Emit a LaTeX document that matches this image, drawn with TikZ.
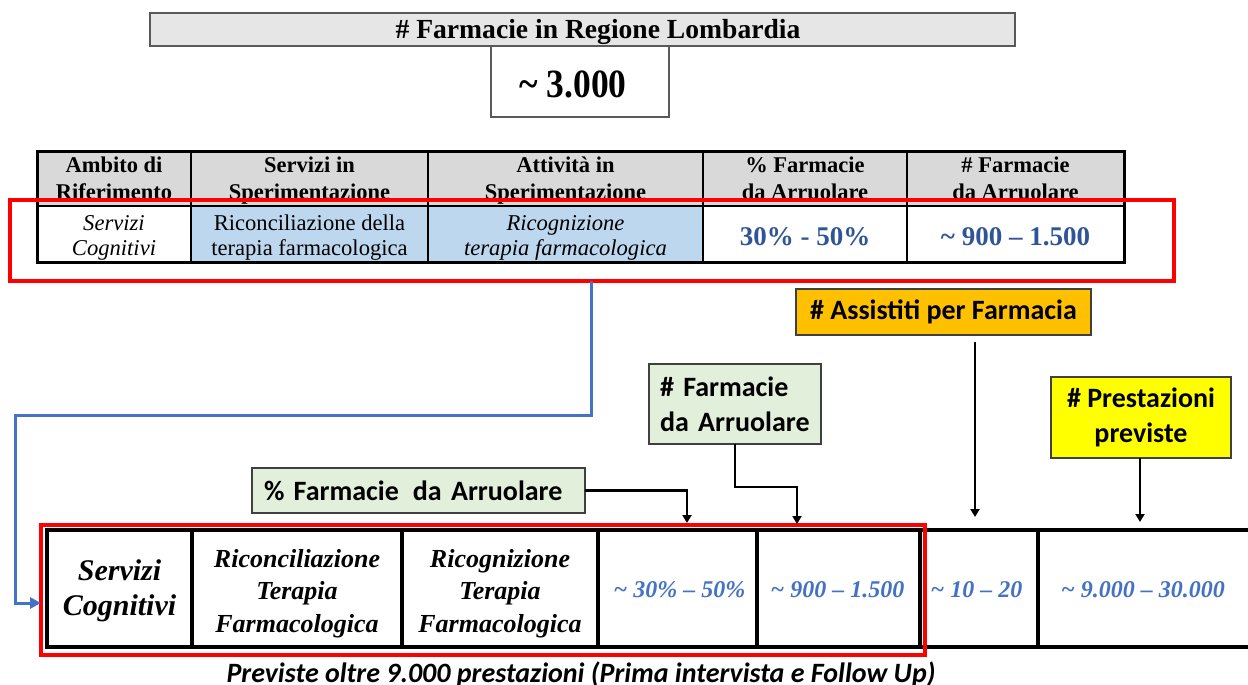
\documentclass[tikz,border=0pt]{standalone}
\usepackage{fontspec}
\setmainfont{Liberation Serif}
\newfontfamily\calib{Carlito}
\usetikzlibrary{arrows.meta}
\definecolor{hdrgray}{HTML}{D9D9D9}
\definecolor{topgray}{HTML}{E7E6E6}
\definecolor{lblue}{HTML}{BDD7EE}
\definecolor{dblue}{HTML}{2F5597}
\definecolor{mblue}{HTML}{4472C4}
\definecolor{lgreen}{HTML}{E2EFDA}
\definecolor{orng}{HTML}{FFC000}
\definecolor{yel}{HTML}{FFFF00}
\definecolor{bord}{HTML}{404040}
\definecolor{redc}{HTML}{FF0000}
\newcommand{\fsz}[2]{\fontsize{#1}{#2}\selectfont}
\begin{document}
\begin{tikzpicture}[x=1pt,y=-1pt,
  cellbox/.style 2 args={anchor=north west, inner sep=0pt, outer sep=0pt, minimum width=#1pt, minimum height=#2pt},
  hcell/.style={draw=black, line width=2pt, fill=hdrgray},
  dcell/.style={draw=black, line width=2pt},
  txt/.style={inner sep=0pt, align=center},
  redbox/.style={draw=redc, line width=3.5pt},
  lbl/.style={draw=bord, line width=1.2pt, font=\calib\bfseries\fsz{28}{35}},
  blkcon/.style={draw=black, line width=2.5pt, -{Triangle[length=8pt,width=9pt]}},
  bluecon/.style={draw=mblue, line width=3pt, -{Triangle[length=11pt,width=11pt]}},
  tline/.style={draw=black, line width=4pt, line cap=rect}
]
\useasboundingbox (0,0) rectangle (1248,685);
\fill[white] (0,0) rectangle (1248,685);

% title
\node[cellbox={865}{33}, draw=gray!70!black, line width=1.5pt, fill=topgray] (title) at (150,13) {};
\node[anchor=base, inner sep=0pt, font=\bfseries\fsz{27.6}{32}] (titletxt) at (598,39) {\# Farmacie in Regione Lombardia};
\node[cellbox={178}{71}, draw=gray!70!black, line width=1.5pt, fill=white] (tot) at (491,46) {};
\node[anchor=base, inner sep=0pt, font=\bfseries\fsz{35.5}{40}] (tottxt) at (573,97) {\scalebox{1}[1.13]{\textasciitilde\kern9pt 3.000}};

% upper table header
\node[cellbox={154}{55}, hcell] (h1) at (37,151) {};
\node[cellbox={237}{55}, hcell] (h2) at (191,151) {};
\node[cellbox={275}{55}, hcell] (h3) at (428,151) {};
\node[cellbox={204}{55}, hcell] (h4) at (703,151) {};
\node[cellbox={217}{55}, hcell] (h5) at (907,151) {};
\begin{scope}[every node/.style={txt, font=\bfseries\fsz{22.5}{27}}]
\node (ht1) at (114,181) {\strut Ambito di\\\strut Riferimento};
\node (ht2) at (309.5,181) {\strut Servizi in\\\strut Sperimentazione};
\node (ht3) at (565.5,181) {\strut Attività in\\\strut Sperimentazione};
\node (ht4) at (805,181) {\strut\% Farmacie\\\strut da Arruolare};
\node (ht5) at (1015.5,181) {\strut\# Farmacie\\\strut da Arruolare};
\end{scope}
% upper table data
\node[cellbox={154}{56}, dcell, fill=white] (d1) at (37,206) {};
\node[cellbox={237}{56}, dcell, fill=lblue] (d2) at (191,206) {};
\node[cellbox={275}{56}, dcell, fill=lblue] (d3) at (428,206) {};
\node[cellbox={204}{56}, dcell, fill=white] (d4) at (703,206) {};
\node[cellbox={217}{56}, dcell, fill=white] (d5) at (907,206) {};
\draw[line width=3pt] (h1.north west) rectangle (d5.south east);
\begin{scope}[every node/.style={txt, font=\fsz{22.6}{25}}]
\node (dt1) at (114,237.5) {\itshape\strut Servizi\\\itshape\strut Cognitivi};
\node (dt2) at (309.5,237.5) {\strut Riconciliazione della\\\strut terapia farmacologica};
\node (dt3) at (565.5,237.5) {\itshape\strut Ricognizione\\\itshape\strut terapia farmacologica};
\end{scope}
\node[anchor=base, inner sep=0pt, font=\bfseries\fsz{27}{30}, text=dblue] (dt4) at (805,245) {30\% - 50\%};
\node[anchor=base, inner sep=0pt, font=\bfseries\fsz{27}{30}, text=dblue] (dt5) at (1015.5,245) {\textasciitilde{} 900 – 1.500};

\node[cellbox={1164}{81}, redbox] (sel1) at (10,200) {};

% lower table cells
\node[cellbox={145}{117}] (t1) at (47,530) {};
\node[cellbox={210}{117}] (t2) at (192,530) {};
\node[cellbox={196}{117}] (t3) at (402,530) {};
\node[cellbox={159}{117}] (t4) at (598,530) {};
\node[cellbox={163}{117}] (t5) at (757,530) {};
\node[cellbox={118}{117}] (t6) at (920,530) {};
\node[cellbox={214}{117}] (t7) at (1038,530) {};
\draw[tline] (t7.north east) -- (t1.north west) -- (t1.south west) -- (t7.south east);
\foreach \c in {t1,t2,t3,t4,t5,t6}{\draw[tline] (\c.north east) -- (\c.south east);}

\node[txt, font=\bfseries\itshape\fsz{30}{35}] (x1) at (119.5,590.5) {\strut Servizi\\\strut Cognitivi};
\node[txt, font=\bfseries\itshape\fsz{26}{32.5}] (x2) at (297,593) {\strut Riconciliazione\\\strut Terapia\\\strut Farmacologica};
\node[txt, font=\bfseries\itshape\fsz{26}{32.5}] (x3) at (500,593) {\strut Ricognizione\\\strut Terapia\\\strut Farmacologica};
\begin{scope}[every node/.style={anchor=base, inner sep=0pt, font=\bfseries\itshape\fsz{24}{28}, text=mblue}]
\node (x4) at (679.5,597) {\textasciitilde{} 30\% – 50\%};
\node (x5) at (837.5,597) {\textasciitilde{} 900 – 1.500};
\node (x6) at (976.5,597) {\textasciitilde{} 10 – 20};
\node (x7) at (1143,597) {\textasciitilde{} 9.000 – 30.000};
\end{scope}

\node[cellbox={884}{130}, redbox] (sel2) at (41,525) {};

\node[anchor=base, inner sep=0pt, font=\calib\bfseries\itshape\fsz{28}{32}] (caption) at (581,682) {Previste oltre 9.000 prestazioni (Prima intervista e Follow Up)};

% labels
\node[cellbox={333}{45}, lbl, fill=lgreen, text width=309pt, inner xsep=12pt, align=left] (lblpct) at (252,468) {\% Farmacie\ \,da Arruolare};
\node[cellbox={172}{80}, lbl, fill=lgreen, text width=150pt, inner xsep=11pt, align=left] (lblnum) at (649,364) {\# Farmacie\\da Arruolare};
\node[cellbox={295}{46}, lbl, fill=orng] (lblass) at (796,289) {\# Assistiti per Farmacia};
\node[cellbox={180}{81}, lbl, fill=yel, align=center] (lblprest) at (1051,377) {\# Prestazioni\\previste};

% connectors
\coordinate (bc1) at (591,415);
\coordinate (bc2) at (15,415);
\draw[bluecon] (sel1.south -| bc1) -- (bc1) -- (bc2) |- ([yshift=-13pt]sel2.west);

\coordinate (a4) at (687,523);
\coordinate (a5) at (797,524);
\coordinate (a6) at (975,517);
\coordinate (a7) at (1140,522);
\draw[blkcon] (lblpct.east) -| (a4);
\draw[blkcon] (lblnum.south) -- ++(0,43) -| (a5);
\draw[blkcon, shorten <=7pt] (lblass.south -| a6) -- (a6);
\draw[blkcon] (lblprest.south -| a7) -- (a7);
\end{tikzpicture}
\end{document}
